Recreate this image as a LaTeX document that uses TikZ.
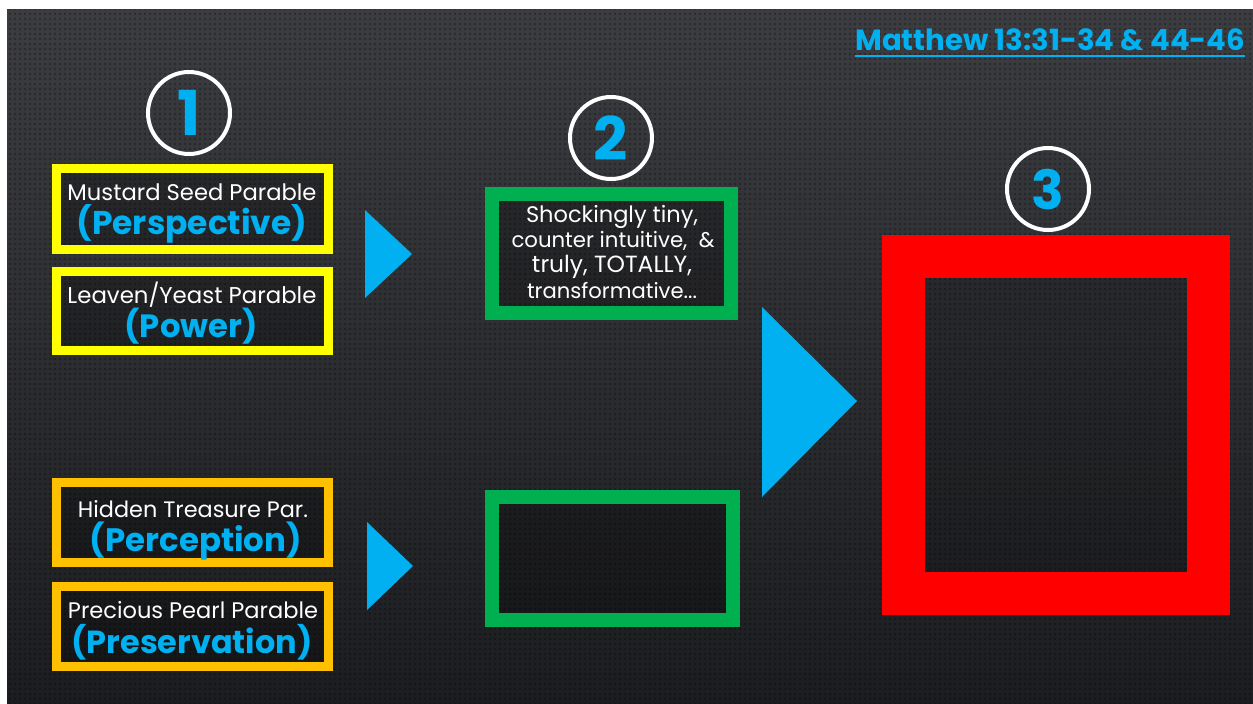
\documentclass[tikz,border=0pt]{standalone}
\usepackage{fontspec}
\setmainfont{Poppins}
\usetikzlibrary{patterns.meta}
\definecolor{skyb}{HTML}{00B0F0}
\definecolor{ylw}{HTML}{FFFF00}
\definecolor{org}{HTML}{FFC000}
\definecolor{grn}{HTML}{00B050}
\definecolor{rd}{HTML}{FF0000}
\definecolor{bgtop}{HTML}{3C3D41}
\definecolor{bgbot}{HTML}{1C1D20}
\tikzset{
  frame/.style={line width=#1, fill=black, fill opacity=0.25, draw opacity=1},
  label/.style={text=white, inner sep=0pt, anchor=base},
  keyword/.style={text=skyb, inner sep=0pt, anchor=base, font=\bfseries},
  numring/.style={circle, draw=white, line width=4pt, minimum size=82pt, inner sep=0pt},
  numdigit/.style={text=skyb, inner sep=0pt, anchor=center},
  pointer/.style={fill=skyb},
}
\newcommand{\fitw}[2]{\resizebox{#1pt}{!}{#2}}
\begin{document}
\begin{tikzpicture}[x=1pt,y=-1pt]
\useasboundingbox (0,0) rectangle (1253,704);
\fill[white] (0,0) rectangle (1253,704);
% dark perforated panel
\shade[top color=bgtop, bottom color=bgbot] (7,9) rectangle (1253,704);
\fill[pattern={Dots[distance=5pt,radius=1.1pt]}, pattern color=black, opacity=0.35] (7,9) rectangle (1253,704);

% heading
\node[keyword, anchor=base west] (ttl) at (855,50) {\fitw{390}{Matthew 13:31-34 \& 44-46}};
\draw[skyb, line width=2.5pt] ([yshift=-6pt]ttl.base west) -- ([yshift=-6pt]ttl.base east);

% step numbers
\node[numring] (c1) at (189,113) {};
\node[numdigit] (n1) at (c1.center) {\fontsize{62}{62}\selectfont\bfseries 1};
\node[numring] (c2) at (611,138) {};
\node[numdigit] (n2) at (c2.center) {\fontsize{60}{60}\selectfont\bfseries 2};
\node[numring] (c3) at (1048,189) {};
\node[numdigit] (n3) at (c3.center) {\fontsize{54}{54}\selectfont\bfseries 3};

% parable boxes
\draw[ylw, frame=9pt] (56.5,168.5) rectangle (328.5,249.5);
\draw[ylw, frame=9pt] (56.5,271.5) rectangle (328.5,350.5);
\draw[org, frame=9pt] (56.5,482.5) rectangle (328.5,562.5);
\draw[org, frame=9pt] (56.5,586.5) rectangle (328.5,666.5);

\node[label] (p1a) at (192,200) {\fitw{249}{Mustard Seed Parable}};
\node[keyword] (p1b) at (192,234) {\fitw{231}{(Perspective)}};
\node[label] (p2a) at (192,303) {\fitw{249}{Leaven/Yeast Parable}};
\node[keyword] (p2b) at (191,337) {\fitw{133}{(Power)}};
\node[label] (p3a) at (193,517) {\fitw{230}{Hidden Treasure Par.}};
\node[keyword] (p3b) at (196,551) {\fitw{212}{(Perception)}};
\node[label] (p4a) at (193,618) {\fitw{250}{Precious Pearl Parable}};
\node[keyword] (p4b) at (192,653) {\fitw{241}{(Preservation)}};

% pointers
\fill[pointer] (365,210) -- (412,254) -- (365,298) -- cycle;
\fill[pointer] (367,522) -- (413,566) -- (367,610) -- cycle;
\fill[pointer] (762,307) -- (857,401) -- (762,497) -- cycle;

% outcome boxes
\draw[grn, frame=14pt] (492,194) rectangle (731,313);
\draw[grn, frame=14pt] (492,497) rectangle (733,620);
\node[label] (g1) at (612,222) {\fitw{172}{Shockingly tiny,}};
\node[label] (g2) at (613,247) {\fitw{203}{counter intuitive,\ \ \&}};
\node[label] (g3) at (612,272) {\fitw{160}{truly, TOTALLY,}};
\node[label] (g4) at (612,298) {\fitw{170}{transformative...}};

% final frame
\draw[rd, line width=43pt, fill=black, fill opacity=0.15, draw opacity=1] (903.5,256.5) rectangle (1208.5,593.5);
\end{tikzpicture}
\end{document}
